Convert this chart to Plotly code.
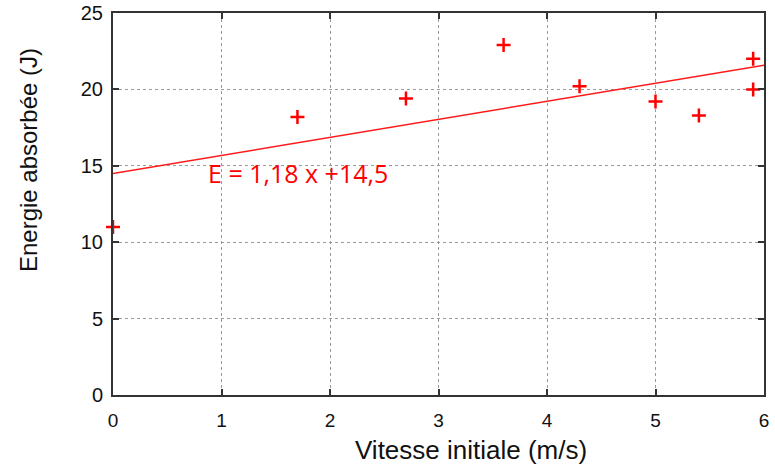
import plotly.graph_objects as go

# measured points
vitesse = [0.0, 1.7, 2.7, 3.6, 4.3, 5.0, 5.4, 5.9, 5.9]
energie = [11.0, 18.2, 19.4, 22.9, 20.2, 19.2, 18.3, 22.0, 20.0]

# linear fit E = a x + b
pente = 1.18
ordonnee = 14.5
fit_x = [0, 6]
fit_y = [pente * v + ordonnee for v in fit_x]

x_ticks = [0, 1, 2, 3, 4, 5, 6]
y_ticks = [0, 5, 10, 15, 20, 25]

fig = go.Figure()

fig.add_trace(go.Scatter(
    x=fit_x, y=fit_y, mode="lines",
    line=dict(color="#ff1a1a", width=1.5),
    showlegend=False, cliponaxis=False,
))
fig.add_trace(go.Scatter(
    x=vitesse, y=energie, mode="markers",
    marker=dict(symbol="cross-thin", size=10, line=dict(color="#ff0000", width=2.5)),
    showlegend=False, cliponaxis=False,
))

fig.add_annotation(
    x=0.86, y=14.5, xref="x", yref="y", xanchor="left", yanchor="middle",
    text="E = 1,18 x +14,5", showarrow=False,
    font=dict(family="Open Sans", size=25, color="#ff0000"),
)
# axis titles as annotations, they are off-centre in the original
fig.add_annotation(
    x=0.0, y=0.615, xref="paper", yref="paper", xshift=-85,
    xanchor="center", yanchor="middle",
    text="Energie absorbée (J)", textangle=-90, showarrow=False,
    font=dict(family="Liberation Sans", size=24, color="#111111"),
)
fig.add_annotation(
    x=0.55, y=0.0, xref="paper", yref="paper", yshift=-55,
    xanchor="center", yanchor="middle",
    text="Vitesse initiale (m/s)", showarrow=False,
    font=dict(family="Liberation Sans", size=26, color="#111111"),
)

axis_common = dict(
    showline=True, linecolor="#333333", linewidth=2, mirror="ticks",
    ticks="inside", ticklen=6, tickwidth=2, tickcolor="#333333",
    showgrid=True, gridcolor="#9a9a9a", gridwidth=1, griddash="dot",
    zeroline=False, automargin=False,
)

fig.update_layout(
    width=775, height=468,
    margin=dict(l=113, r=11, t=13, b=73),
    paper_bgcolor="white", plot_bgcolor="white",
    xaxis=dict(range=[0, 6], tickvals=x_ticks, ticklabelstandoff=7,
               tickfont=dict(family="Liberation Sans", size=19, color="#111111"),
               **axis_common),
    yaxis=dict(range=[0, 25], tickvals=y_ticks, ticklabelstandoff=4,
               tickfont=dict(family="Liberation Sans", size=20, color="#111111"),
               **axis_common),
)

# page body has an 8px default margin, drop it so the figure sits at 0,0
fig.write_html("out.html", config={"displayModeBar": False},
               post_script="document.body.style.margin='0';")
